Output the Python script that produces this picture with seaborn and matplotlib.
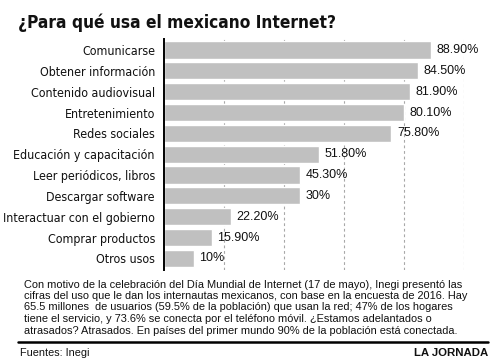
import matplotlib
matplotlib.use("Agg")
import matplotlib.pyplot as plt
import seaborn as sns
import pandas as pd

usos = ["Comunicarse", "Obtener información", "Contenido audiovisual",
        "Entretenimiento", "Redes sociales", "Educación y capacitación",
        "Leer periódicos, libros", "Descargar software",
        "Interactuar con el gobierno", "Comprar productos", "Otros usos"]
# bar lengths as drawn in the original (the "30%" bar is drawn as long as 45.3)
largo = [88.9, 84.5, 81.9, 80.1, 75.8, 51.8, 45.3, 45.3, 22.2, 15.9, 10.0]
etiquetas = ["88.90%", "84.50%", "81.90%", "80.10%", "75.80%", "51.80%",
             "45.30%", "30%", "22.20%", "15.90%", "10%"]
nota = [
    "Con motivo de la celebración del Día Mundial de Internet (17 de mayo), Inegi presentó las",
    "cifras del uso que le dan los internautas mexicanos, con base en la encuesta de 2016. Hay",
    "65.5 millones  de usuarios (59.5% de la población) que usan la red; 47% de los hogares",
    "tiene el servicio, y 73.6% se conecta por el teléfono móvil. ¿Estamos adelantados o",
    "atrasados? Atrasados. En países del primer mundo 90% de la población está conectada.",
]

df = pd.DataFrame({"uso": usos, "pct": largo})

sns.set_style("white")
plain = ["Liberation Sans", "DejaVu Sans"]
plt.rcParams["font.family"] = plain

W, H = 500, 362
fig = plt.figure(figsize=(W / 100, H / 100), dpi=100)
ax = fig.add_axes([164 / W, 1 - 269.9 / H, 300 / W, 231.4 / H])

sns.barplot(data=df, y="uso", x="pct", orient="h", color="#c0c0c0",
            saturation=1, width=0.82, ax=ax, zorder=2)
ax.set_xlim(0, 100)
ax.set_ylim(10.55, -0.55)
ax.set_xlabel("")
ax.set_ylabel("")
ax.set_xticks([20, 40, 60, 80, 100])
ax.set_xticklabels([])
ax.grid(axis="x", color="#a8a8a8", linestyle=(0, (2.5, 2.5)), linewidth=0.8, zorder=0)
ax.grid(axis="y", visible=False)
ax.set_axisbelow(True)
for s in ["top", "right", "bottom"]:
    ax.spines[s].set_visible(False)
ax.spines["left"].set_color("black")
ax.spines["left"].set_linewidth(1.4)
ax.tick_params(axis="both", length=0)
ax.tick_params(axis="y", pad=6.5)
for lab in ax.get_yticklabels():
    lab.set_family("DejaVu Sans")
    lab.set_stretch("condensed")
    lab.set_fontsize(8.95)
    lab.set_color("#111111")

ax.bar_label(ax.containers[0], labels=etiquetas, padding=4, fontsize=9.0,
             color="#111111", clip_on=False)

fig.text(18 / W, 1 - 28 / H, "¿Para qué usa el mexicano Internet?",
         family="DejaVu Sans", stretch="condensed", fontweight="bold",
         fontsize=12.4, color="#111111", va="baseline", ha="left")

for i, linea in enumerate(nota):
    fig.text(24 / W, 1 - (287.5 + i * 11.5) / H, linea, fontsize=7.95,
             color="#111111", va="baseline", ha="left")

fig.add_artist(plt.Line2D([18 / W, 488 / W], [1 - 341.7 / H] * 2,
                          color="black", linewidth=1.8))
fig.text(20 / W, 1 - 356 / H, "Fuentes: Inegi", fontsize=7.8,
         color="#111111", va="baseline", ha="left")
fig.text(488 / W, 1 - 356 / H, "LA JORNADA", fontsize=8.2, fontweight="bold",
         color="#111111", va="baseline", ha="right")

fig.savefig("out.png", dpi=100)
